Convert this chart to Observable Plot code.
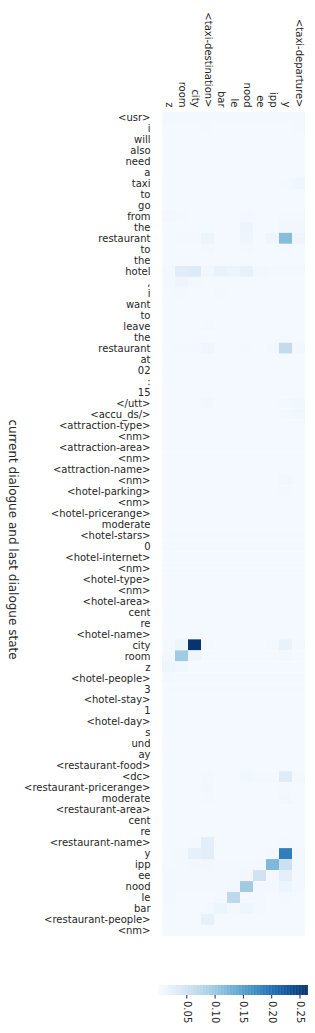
<!DOCTYPE html>
<html>
<head>
<meta charset="utf-8">
<script src="https://cdn.jsdelivr.net/npm/d3@7"></script>
<script src="https://cdn.jsdelivr.net/npm/@observablehq/plot@0.6"></script>
<style>
  html, body { margin: 0; padding: 0; background: #fff; }
  #chart svg { display: block; }
</style>
</head>
<body>
<div id="chart"></div>
<script>
// Columns (attended target tokens)
const columns = ["z", "room", "city", "<taxi-destination>", "bar", "le", "nood", "ee", "ipp", "y", "<taxi-departure>"];

// Rows (current dialogue and last dialogue state tokens)
const rowLabels = [
  "<usr>", "i", "will", "also", "need", "a", "taxi", "to", "go", "from",
  "the", "restaurant", "to", "the", "hotel", ",", "i", "want", "to", "leave",
  "the", "restaurant", "at", "02", ":", "15", "</utt>", "<accu_ds/>", "<attraction-type>", "<nm>",
  "<attraction-area>", "<nm>", "<attraction-name>", "<nm>", "<hotel-parking>", "<nm>", "<hotel-pricerange>", "moderate", "<hotel-stars>", "0",
  "<hotel-internet>", "<nm>", "<hotel-type>", "<nm>", "<hotel-area>", "cent", "re", "<hotel-name>", "city", "room",
  "z", "<hotel-people>", "3", "<hotel-stay>", "1", "<hotel-day>", "s", "und", "ay", "<restaurant-food>",
  "<dc>", "<restaurant-pricerange>", "moderate", "<restaurant-area>", "cent", "re", "<restaurant-name>", "y", "ipp", "ee",
  "nood", "le", "bar", "<restaurant-people>", "<nm>"
];

// Attention weights, in thousandths (one array per row, one value per column)
const weights = [
  [6,6,6,6,6,6,6,6,6,6,6],
  [5,5,5,6,5,5,5,5,5,5,6],
  [5,5,5,5,5,5,5,5,5,5,5],
  [5,5,5,5,5,5,5,5,5,5,5],
  [5,5,5,5,5,5,5,5,5,5,5],
  [5,5,5,5,5,5,5,5,5,5,5],
  [5,5,5,5,5,5,5,5,5,6,10],
  [5,5,5,5,5,5,5,5,5,5,5],
  [5,5,5,5,5,5,5,5,5,5,5],
  [8,6,5,5,5,5,6,5,5,6,7],
  [5,5,5,5,5,5,14,5,5,8,8],
  [5,6,6,14,5,5,12,5,12,115,12],
  [5,5,5,6,5,5,6,5,5,6,5],
  [5,5,5,5,5,5,5,5,5,5,5],
  [6,30,35,8,18,16,20,8,6,6,6],
  [6,12,6,5,5,5,5,5,5,5,5],
  [5,6,5,5,6,5,5,5,5,5,5],
  [5,5,5,5,5,5,5,5,5,5,5],
  [5,5,5,5,5,5,5,5,5,5,5],
  [5,5,5,6,5,5,5,5,5,5,5],
  [5,5,5,5,5,5,5,5,5,5,5],
  [5,6,6,10,5,5,6,5,8,66,8],
  [5,5,5,5,5,5,5,5,5,5,5],
  [5,5,5,5,5,5,5,5,5,5,5],
  [5,5,5,5,5,5,5,5,5,5,5],
  [5,5,5,5,5,5,5,5,5,5,5],
  [5,5,5,9,5,5,5,5,5,6,9],
  [5,5,5,5,5,5,5,5,5,6,8],
  [5,5,5,5,5,5,5,5,5,5,5],
  [5,5,5,5,5,5,5,5,5,5,5],
  [5,5,5,5,5,5,5,5,5,5,5],
  [5,5,5,5,5,5,5,5,5,5,5],
  [5,5,5,5,5,5,5,5,5,5,5],
  [5,5,5,5,5,5,5,5,5,9,5],
  [5,5,5,5,5,5,5,5,5,6,5],
  [5,5,5,5,5,5,5,5,5,5,5],
  [5,5,5,5,5,5,5,5,5,5,5],
  [5,5,5,5,5,5,5,5,5,5,5],
  [5,5,5,5,5,5,5,5,5,5,5],
  [5,5,5,5,5,5,5,5,5,5,5],
  [5,5,5,5,5,5,5,5,5,5,5],
  [5,5,5,5,5,5,5,5,5,5,5],
  [5,5,5,5,5,5,5,5,5,5,5],
  [5,5,5,5,5,5,5,5,5,5,5],
  [5,5,5,5,5,5,5,5,5,5,5],
  [5,5,5,5,5,5,5,5,5,5,5],
  [5,5,5,5,5,5,5,5,5,5,5],
  [5,5,5,5,5,5,5,5,5,5,5],
  [6,14,262,6,5,5,5,5,6,18,6],
  [8,95,12,5,5,5,5,5,5,6,5],
  [14,9,5,5,5,5,5,5,5,5,5],
  [6,5,5,5,5,5,5,5,5,5,5],
  [5,5,5,5,5,5,5,5,5,5,5],
  [5,5,5,5,5,5,5,5,5,5,5],
  [5,5,5,5,5,5,5,5,5,5,5],
  [5,5,5,5,5,5,5,5,5,5,5],
  [5,5,5,5,5,5,5,5,5,5,5],
  [5,5,5,5,5,5,5,5,5,5,5],
  [5,5,5,5,5,5,5,5,5,5,5],
  [5,5,5,5,5,5,5,5,5,5,5],
  [5,5,5,6,5,5,9,6,6,32,6],
  [5,5,5,9,5,5,5,5,5,6,5],
  [5,5,5,7,5,5,5,5,5,9,5],
  [5,5,5,5,5,5,5,5,5,5,5],
  [5,5,5,5,5,5,5,5,5,5,5],
  [5,5,5,5,5,5,5,5,5,5,5],
  [5,5,6,26,5,5,5,5,5,6,5],
  [5,6,22,28,5,5,5,5,6,185,6],
  [5,6,8,8,6,6,6,6,120,55,6],
  [6,6,6,6,6,6,8,50,6,25,6],
  [6,6,6,6,6,8,95,6,6,14,6],
  [6,5,5,5,6,72,6,6,5,6,5],
  [5,5,5,6,14,6,12,6,5,5,5],
  [5,5,5,20,5,5,5,5,5,5,5],
  [5,5,5,5,5,5,5,5,5,5,5]
];

// Colorbar ticks
const colorTicks = [0.05, 0.10, 0.15, 0.20, 0.25];
const colorDomain = [0, 0.265];
const yTitle = "current dialogue and last dialogue state";

const cells = [];
weights.forEach((row, i) => row.forEach((v, j) => cells.push({row: i, col: columns[j], value: v / 1000})));

const font = "'DejaVu Sans', sans-serif";
const textColor = "#262626";

const main = Plot.plot({
  width: 315,
  height: 950,
  marginTop: 112,
  marginBottom: 14,
  marginLeft: 158,
  marginRight: 7,
  style: {fontFamily: font, fontSize: "10px", color: textColor, background: "#fff"},
  x: {type: "band", domain: columns, padding: 0, axis: null},
  y: {type: "band", domain: d3.range(rowLabels.length), padding: 0, axis: null},
  color: {type: "linear", scheme: "blues", domain: colorDomain},
  marks: [
    Plot.cell(cells, {x: "col", y: "row", fill: "value", inset: 0}),
    Plot.axisX({anchor: "top", tickSize: 0, tickPadding: 5, tickRotate: 90, label: null, fontSize: 10}),
    Plot.axisY({anchor: "left", tickSize: 0, tickPadding: 8, label: null, tickFormat: i => rowLabels[i], fontSize: 10}),
    Plot.text([yTitle], {frameAnchor: "left", dx: -146, dy: 15, rotate: 90, textAnchor: "middle", lineAnchor: "middle", fontSize: 12, fill: textColor})
  ]
});

const step = colorDomain[1] / 200;
const stops = d3.range(0, colorDomain[1], step);
const bar = Plot.plot({
  width: 315,
  height: 83,
  marginTop: 35,
  marginBottom: 38,
  marginLeft: 158,
  marginRight: 7,
  style: {fontFamily: font, fontSize: "10px", color: textColor, background: "#fff"},
  x: {type: "linear", domain: colorDomain},
  y: {domain: [0, 1], axis: null},
  color: {type: "linear", scheme: "blues", domain: colorDomain},
  marks: [
    Plot.rect(stops, {x1: d => d, x2: d => Math.min(d + step * 1.5, colorDomain[1]), y1: 0, y2: 1, fill: d => d + step / 2}),
    Plot.axisX({anchor: "bottom", ticks: colorTicks, tickFormat: d3.format(".2f"), tickSize: 3.5, tickPadding: 2, tickRotate: 90, label: null, fontSize: 10})
  ]
});

const el = document.getElementById("chart");
el.appendChild(main);
el.appendChild(bar);
</script>
</body>
</html>
